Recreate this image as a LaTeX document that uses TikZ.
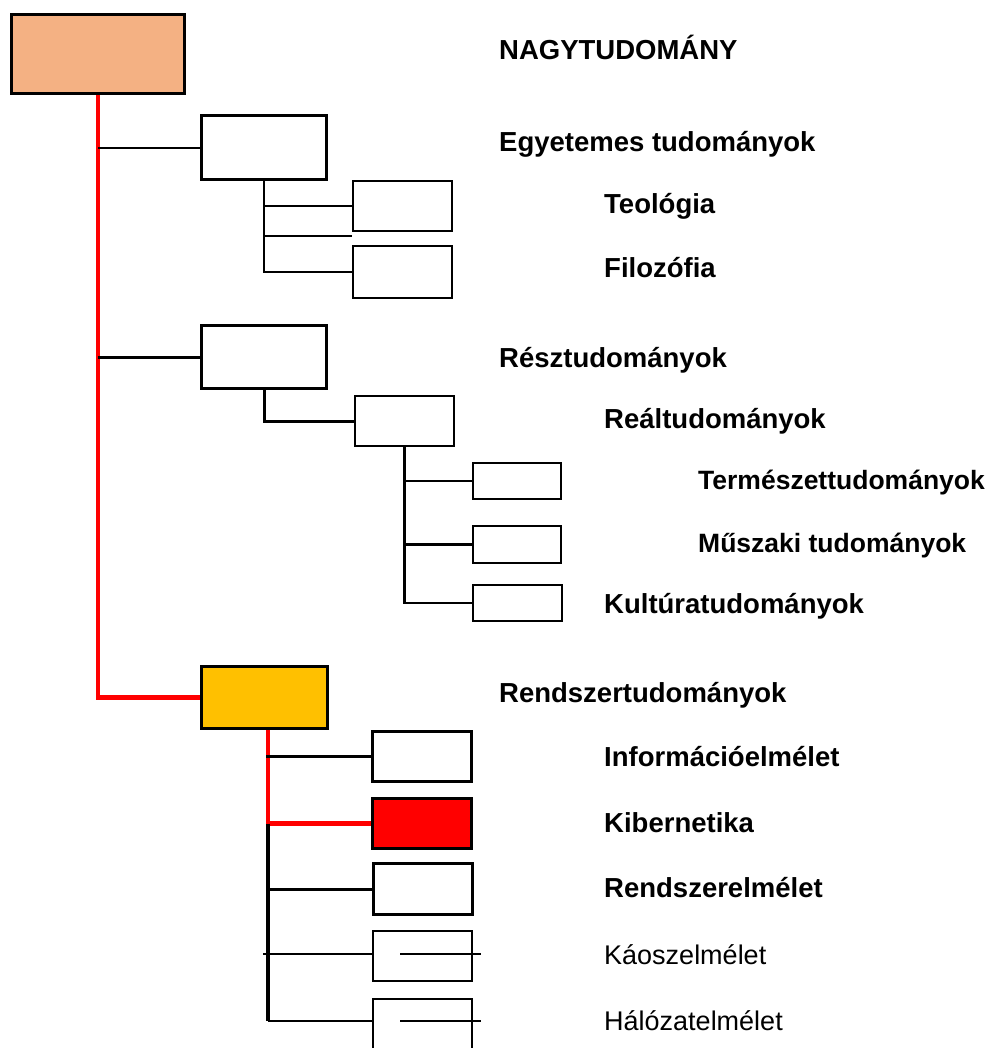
\documentclass[tikz,border=0pt]{standalone}
\usepackage{fontspec}
\setmainfont{Liberation Sans}
\definecolor{peach}{HTML}{F4B183}
\definecolor{amber}{HTML}{FFC000}
\begin{document}
\begin{tikzpicture}[x=1pt,y=-1pt]
\useasboundingbox[fill=white] (0,0) rectangle (993,1048);
\tikzset{
  box/.style={draw, rectangle, inner sep=0pt, anchor=north west, line width=2pt},
  heavy/.style={box, line width=3.2pt},
  link/.style={line width=2pt, black},
  thick link/.style={line width=3pt, black},
  spine/.style={line width=4.5pt, red},
  lbl/.style={anchor=base west, inner sep=0pt, font=\bfseries\fontsize{27.5}{31}\selectfont},
  lblsmall/.style={anchor=base west, inner sep=0pt, font=\bfseries\fontsize{26.5}{31}\selectfont},
  lblplain/.style={anchor=base west, inner sep=0pt, font=\fontsize{27}{31}\selectfont},
}
% boxes
\node[heavy, fill=peach, minimum width=173, minimum height=79] (top) at (10,13) {};
\node[heavy, minimum width=125, minimum height=64] (egy) at (200,114) {};
\node[box, minimum width=99, minimum height=50] (teo) at (352,180) {};
\node[box, minimum width=99, minimum height=52] (fil) at (352,245) {};
\node[heavy, minimum width=125, minimum height=63] (resz) at (200,324) {};
\node[box, minimum width=99, minimum height=50] (real) at (354,395) {};
\node[box, minimum width=88, minimum height=36] (term) at (472,462) {};
\node[box, minimum width=88, minimum height=37] (musz) at (472,525) {};
\node[box, minimum width=89, minimum height=36] (kult) at (472,584) {};
\node[heavy, fill=amber, minimum width=126, minimum height=62] (rend) at (200,665) {};
\node[heavy, minimum width=99, minimum height=50] (info) at (371,730) {};
\node[heavy, fill=red, minimum width=99, minimum height=50] (kib) at (371,797) {};
\node[heavy, minimum width=99, minimum height=51] (rendel) at (372,862) {};
\node[box, minimum width=99, minimum height=50] (kaosz) at (372,930) {};
\node[box, minimum width=99, minimum height=70] (halo) at (372,998) {};

% main red spine
\draw[spine] (top.south) |- (rend.west);
\draw[link] (top.south |- egy.west) -- (egy.west);
\draw[thick link] (top.south |- resz.west) -- (resz.west);

% universal sciences
\coordinate (gap) at (352,236);
\draw[link] (egy.south) |- (fil.west);
\draw[link] (egy.south |- teo.west) -- (teo.west);
\draw[line width=1.5pt] (egy.south |- gap) -- (gap);

% partial sciences
\draw[thick link] (resz.south) |- (real.west);
\draw[line width=2.5pt] (real.south) |- (kult.west);
\draw[line width=2.5pt] (real.south |- term.west) -- (term.west);
\draw[line width=2.5pt] (real.south |- musz.west) -- (musz.west);

% systems sciences
\coordinate (r0) at (268,730);
\coordinate (hj) at (372,1021);
\coordinate (kin) at (400,954);
\coordinate (kout) at (481,954);
\coordinate (hin) at (400,1021);
\coordinate (hout) at (481,1021);
\coordinate (kl) at (263,954);
\draw[spine] (r0) |- (kib.west);
\draw[line width=3.5pt] (r0 |- kib.west) -- (r0 |- hj);
\draw[thick link] ([xshift=-2pt]r0 |- info.west) -- (info.west);
\draw[thick link] ([xshift=-2pt]r0 |- rendel.west) -- (rendel.west);
\draw[link] (kl) -- (kl -| kaosz.west);
\draw[link] (r0 |- hj) -- (hj);
\draw[link] (kin) -- (kout);
\draw[link] (hin) -- (hout);

% labels
\node[lbl] (t0) at (499,60) {NAGYTUDOMÁNY};
\node[lbl] (t1) at (499,152) {Egyetemes tudományok};
\node[lbl] (t2) at (604,214) {Teológia};
\node[lbl] (t3) at (604,277) {Filozófia};
\node[lbl] (t4) at (499,367) {Résztudományok};
\node[lbl] (t5) at (604,428) {Reáltudományok};
\node[lblsmall] (t6) at (698,489) {Természettudományok};
\node[lblsmall] (t7) at (698,552) {Műszaki tudományok};
\node[lbl] (t8) at (604,613) {Kultúratudományok};
\node[lbl] (t9) at (499,702) {Rendszertudományok};
\node[lbl] (t10) at (604,766) {Információelmélet};
\node[lbl] (t11) at (604,832) {Kibernetika};
\node[lbl] (t12) at (604,897) {Rendszerelmélet};
\node[lblplain] (t13) at (604,964) {Káoszelmélet};
\node[lblplain] (t14) at (604,1030) {Hálózatelmélet};
\end{tikzpicture}
\end{document}
